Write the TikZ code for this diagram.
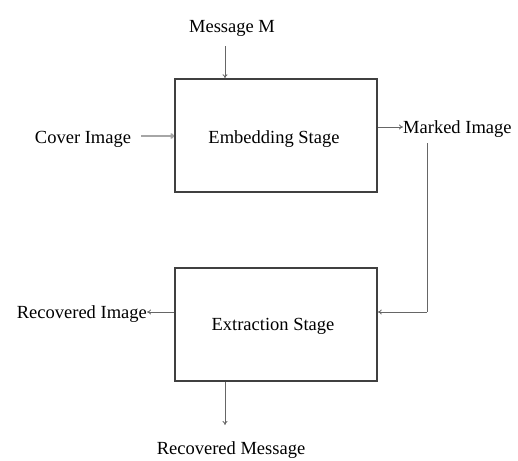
\documentclass[tikz,border=0pt]{standalone}
\usepackage{fontspec}
\setmainfont{Liberation Serif}
\usetikzlibrary{arrows.meta}
\begin{document}
\begin{tikzpicture}[x=1pt,y=-1pt,
  stagebox/.style={draw=black!75,line width=1.5pt,minimum width=202pt,minimum height=113pt,inner sep=0pt,fill=white},
  lbl/.style={font=\fontsize{18.5}{21}\selectfont,inner sep=0pt,anchor=base},
  arr/.style={draw=black!60,line width=0.8pt,-{To[length=4pt,width=5pt]}},
  grayarr/.style={draw=black!35,line width=2pt,-{To[length=4pt,width=6pt]}}]
\useasboundingbox (0,0) rectangle (518,460);
\node[stagebox] (emb) at (276,135.5) {};
\node[stagebox] (ext) at (276,324.5) {};
\node[lbl] (embt) at (274,143) {Embedding Stage};
\node[lbl] (extt) at (273,330) {Extraction Stage};
\node[lbl] (msg) at (232,33) {Message M};
\node[lbl] (cover) at (83,143) {Cover Image};
\node[lbl,anchor=base west] (marked) at (403,133) {Marked Image};
\node[lbl,anchor=base east] (recimg) at (147,318) {Recovered Image};
\node[lbl] (recmsg) at (231,454) {Recovered Message};
\coordinate (msgend) at (225,46);
\coordinate (coverend) at (141,136);
\coordinate (mk) at (403,127);
\coordinate (markstart) at (427,143);
\coordinate (corner) at (427,312);
\coordinate (recmsgend) at (225,425);
\draw[arr] (msgend) -- (msgend |- emb.north);
\draw[grayarr] (coverend) -- (coverend -| emb.west);
\draw[arr] (emb.east |- mk) -- (mk);
\draw[draw=black!60,line width=1pt] (markstart) -- (corner);
\draw[arr] (corner) -- (corner -| ext.east);
\draw[arr] (ext.west |- corner) -- (recimg.east |- corner);
\draw[arr] (recmsgend |- ext.south) -- (recmsgend);
\end{tikzpicture}
\end{document}
